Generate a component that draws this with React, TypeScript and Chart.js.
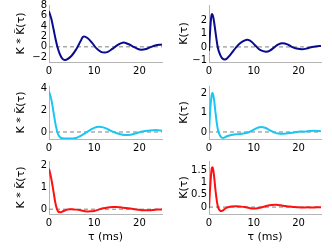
import React, { useEffect, useRef } from 'react';
import { Chart, registerables } from 'chart.js';
Chart.register(...registerables);

// ---------- data ----------
const X_TICKS = [0, 10, 20];

// top row (dark blue)
const TAU_BLUE_KK = [0, 0.5, 1, 1.5, 2, 2.5, 3, 3.5, 4, 5, 6, 7, 7.6, 8.5, 9.5, 10.5, 11.5, 12.3, 13, 14, 15, 16.3, 17.5, 18.5, 19.5, 20.4, 21.5, 22.5, 23.5, 25];
const BLUE_KK = [6.8, 5.4, 3.4, 1.3, -0.4, -1.6, -2.3, -2.5, -2.4, -1.7, -0.5, 1.1, 1.95, 1.7, 0.8, -0.3, -0.95, -1.08, -0.95, -0.4, 0.25, 0.8, 0.55, 0.1, -0.35, -0.55, -0.4, -0.05, 0.25, 0.45];
const BLUE_KK_TICKS = [-2, 0, 2, 4, 6, 8];

const TAU_BLUE_K = [0, 0.25, 0.5, 0.7, 1, 1.5, 2, 2.5, 3, 3.5, 4, 5, 6, 7, 8, 8.6, 9.5, 10.5, 11.5, 12.7, 13.5, 14.5, 15.5, 16.4, 17.5, 18.5, 19.5, 20.8, 22, 23, 24, 25];
const BLUE_K = [-0.3, 1.2, 2.3, 2.5, 2.2, 1.0, -0.1, -0.6, -0.88, -0.95, -0.88, -0.5, -0.05, 0.3, 0.5, 0.54, 0.4, 0.05, -0.25, -0.36, -0.3, -0.05, 0.2, 0.28, 0.2, 0.0, -0.12, -0.18, -0.1, 0.0, 0.05, 0.08];
const BLUE_K_TICKS = [-1, 0, 1, 2];

// middle row (cyan)
const TAU_CYAN_KK = [0, 0.5, 1, 1.5, 2, 2.5, 3, 4, 5, 6, 7, 8, 9, 10, 11, 12, 13, 14, 15, 16, 17, 18, 19, 20, 21, 22, 23, 24, 25];
const CYAN_KK = [3.7, 3.0, 1.8, 0.6, -0.2, -0.5, -0.58, -0.6, -0.6, -0.55, -0.35, -0.1, 0.15, 0.38, 0.48, 0.42, 0.25, 0.05, -0.12, -0.22, -0.27, -0.25, -0.15, -0.03, 0.07, 0.12, 0.16, 0.17, 0.12];
const CYAN_KK_TICKS = [0, 2, 4];

const TAU_CYAN_K = [0, 0.3, 0.6, 0.8, 1.1, 1.5, 2, 2.5, 3, 3.5, 4, 5, 6, 7, 8, 9, 10, 11, 11.6, 12.5, 13.5, 14.5, 15.5, 16.5, 17.5, 18.5, 19.5, 20.5, 21.5, 22.5, 23.5, 24.5, 25];
const CYAN_K = [0.0, 1.2, 1.9, 2.0, 1.7, 0.9, 0.1, -0.2, -0.3, -0.28, -0.22, -0.15, -0.12, -0.1, -0.07, 0.0, 0.12, 0.23, 0.26, 0.22, 0.1, -0.02, -0.08, -0.09, -0.07, -0.04, 0.0, 0.02, 0.02, 0.05, 0.06, 0.05, 0.04];
const CYAN_K_TICKS = [0, 1, 2];

// bottom row (red)
const TAU_RED_KK = [0, 0.5, 1, 1.5, 2, 2.5, 3, 4, 4.5, 5, 6, 7, 8, 9, 10, 11, 12, 13, 14, 15, 16, 17, 18, 19, 20, 21, 22, 23, 24, 25];
const RED_KK = [1.85, 1.4, 0.8, 0.2, -0.1, -0.14, -0.1, -0.02, 0.0, 0.0, -0.02, -0.05, -0.09, -0.1, -0.08, -0.02, 0.04, 0.08, 0.1, 0.1, 0.08, 0.05, 0.03, 0.0, -0.03, -0.05, -0.05, -0.04, -0.02, -0.02];
const RED_KK_TICKS = [0, 1, 2];

const TAU_RED_K = [0, 0.3, 0.6, 0.8, 1.1, 1.5, 2, 2.5, 3, 3.5, 4, 5, 6, 7, 8, 9, 10, 11, 12, 13, 14, 15, 16, 17, 18, 19, 20, 21, 22, 23, 24, 25];
const RED_K = [-0.05, 0.9, 1.55, 1.6, 1.3, 0.6, 0.0, -0.15, -0.15, -0.08, -0.02, 0.02, 0.03, 0.02, 0.0, -0.04, -0.06, -0.04, 0.0, 0.05, 0.08, 0.09, 0.07, 0.04, 0.02, 0.0, -0.01, -0.02, -0.01, -0.02, -0.01, -0.01];
const RED_K_TICKS = [0, 0.5, 1, 1.5];

const ZERO_X = [0, 25];
const ZERO_Y = [0, 0];

const LABEL_KK = 'K * K\u0303(\u03c4)';
const LABEL_K = 'K(\u03c4)';
const LABEL_X = '\u03c4 (ms)';

const NAVY = '#0b0b8e';
const CYAN = '#1cc6f2';
const RED = '#ff1010';

// ---------- layout ----------
type Panel = {
  left: number; top: number; width: number; height: number;
  padTop: number; padRight: number; yW: number; xH: number; yTitlePad: number;
  tau: number[]; vals: number[]; color: string; yMin: number; yMax: number; yTicks: number[];
  yLabel: string; xTitle: boolean;
};

const panels: Panel[] = [
  { left: 0, top: 0, width: 166, height: 80, padTop: 5, padRight: 4, yW: 49, xH: 18, yTitlePad: 15, tau: TAU_BLUE_KK, vals: BLUE_KK, color: NAVY, yMin: -2.9, yMax: 8.0, yTicks: BLUE_KK_TICKS, yLabel: LABEL_KK, xTitle: false },
  { left: 166, top: 0, width: 166, height: 80, padTop: 5, padRight: 11, yW: 43, xH: 18, yTitlePad: 12, tau: TAU_BLUE_K, vals: BLUE_K, color: NAVY, yMin: -1.15, yMax: 3.2, yTicks: BLUE_K_TICKS, yLabel: LABEL_K, xTitle: false },
  { left: 0, top: 80, width: 166, height: 75, padTop: 6, padRight: 4, yW: 49, xH: 16, yTitlePad: 15, tau: TAU_CYAN_KK, vals: CYAN_KK, color: CYAN, yMin: -0.64, yMax: 4.2, yTicks: CYAN_KK_TICKS, yLabel: LABEL_KK, xTitle: false },
  { left: 166, top: 80, width: 166, height: 75, padTop: 6, padRight: 11, yW: 43, xH: 16, yTitlePad: 12, tau: TAU_CYAN_K, vals: CYAN_K, color: CYAN, yMin: -0.36, yMax: 2.36, yTicks: CYAN_K_TICKS, yLabel: LABEL_K, xTitle: false },
  { left: 0, top: 155, width: 166, height: 95, padTop: 6, padRight: 4, yW: 49, xH: 36, yTitlePad: 15, tau: TAU_RED_KK, vals: RED_KK, color: RED, yMin: -0.22, yMax: 2.2, yTicks: RED_KK_TICKS, yLabel: LABEL_KK, xTitle: true },
  { left: 166, top: 155, width: 166, height: 95, padTop: 6, padRight: 11, yW: 43, xH: 36, yTitlePad: 12, tau: TAU_RED_K, vals: RED_K, color: RED, yMin: -0.28, yMax: 1.86, yTicks: RED_K_TICKS, yLabel: LABEL_K, xTitle: true },
];

const FONT = 'DejaVu Sans';
const fmt = (v: number | string) => String(v).replace('-', '\u2212');

function PanelChart({ p }: { p: Panel }) {
  const ref = useRef<HTMLCanvasElement | null>(null);
  useEffect(() => {
    if (!ref.current) return;
    const chart = new Chart(ref.current, {
      type: 'line',
      data: {
        datasets: [
          {
            data: p.tau.map((t, i) => ({ x: t, y: p.vals[i] })),
            borderColor: p.color,
            borderWidth: 2,
            pointRadius: 0,
            tension: 0.4,
            fill: false,
            order: 0,
          },
          {
            data: ZERO_X.map((t, i) => ({ x: t, y: ZERO_Y[i] })),
            borderColor: '#7f7f7f',
            borderWidth: 1,
            borderDash: [4, 3],
            pointRadius: 0,
            fill: false,
            order: 1,
          },
        ],
      },
      options: {
        animation: false,
        responsive: false,
        devicePixelRatio: 1,
        events: [],
        layout: { autoPadding: false, padding: { top: p.padTop, right: p.padRight, left: 0, bottom: 0 } },
        plugins: { legend: { display: false }, tooltip: { enabled: false }, title: { display: false } },
        scales: {
          x: {
            type: 'linear',
            min: 0,
            max: 25,
            grid: { display: false, drawTicks: false },
            border: { display: true, color: '#b5b5b5', width: 1 },
            ticks: { color: '#000', padding: 3, font: { family: FONT, size: 10 }, maxRotation: 0, autoSkip: false, callback: (v: any) => fmt(v) },
            title: { display: p.xTitle, text: LABEL_X, color: '#000', font: { family: FONT, size: 11 }, padding: { top: 0, bottom: 6 } },
            afterBuildTicks: (s: any) => { s.ticks = X_TICKS.map((v) => ({ value: v })); },
            afterFit: (s: any) => { s.height = p.xH; s.paddingLeft = 0; s.paddingRight = 0; },
          },
          y: {
            type: 'linear',
            min: p.yMin,
            max: p.yMax,
            grid: { display: false, drawTicks: false },
            border: { display: true, color: '#b5b5b5', width: 1 },
            ticks: { color: '#000', padding: 2, font: { family: FONT, size: 10 }, autoSkip: false, callback: (v: any) => fmt(v) },
            title: { display: true, text: p.yLabel, color: '#000', font: { family: FONT, size: 11 }, padding: { top: p.yTitlePad, bottom: 0 } },
            afterBuildTicks: (s: any) => { s.ticks = p.yTicks.map((v) => ({ value: v })); },
            afterFit: (s: any) => { s.width = p.yW; s.paddingTop = 0; s.paddingBottom = 0; },
          },
        },
      },
    } as any);
    return () => chart.destroy();
  }, [p]);
  return (
    <canvas
      ref={ref}
      width={p.width}
      height={p.height}
      style={{ position: 'absolute', left: p.left, top: p.top, width: p.width, height: p.height }}
    />
  );
}

export default function App() {
  return (
    <div style={{ position: 'fixed', left: 0, top: 0, width: 332, height: 250, background: '#fff', overflow: 'hidden' }}>
      {panels.map((p, i) => (
        <PanelChart key={i} p={p} />
      ))}
    </div>
  );
}
